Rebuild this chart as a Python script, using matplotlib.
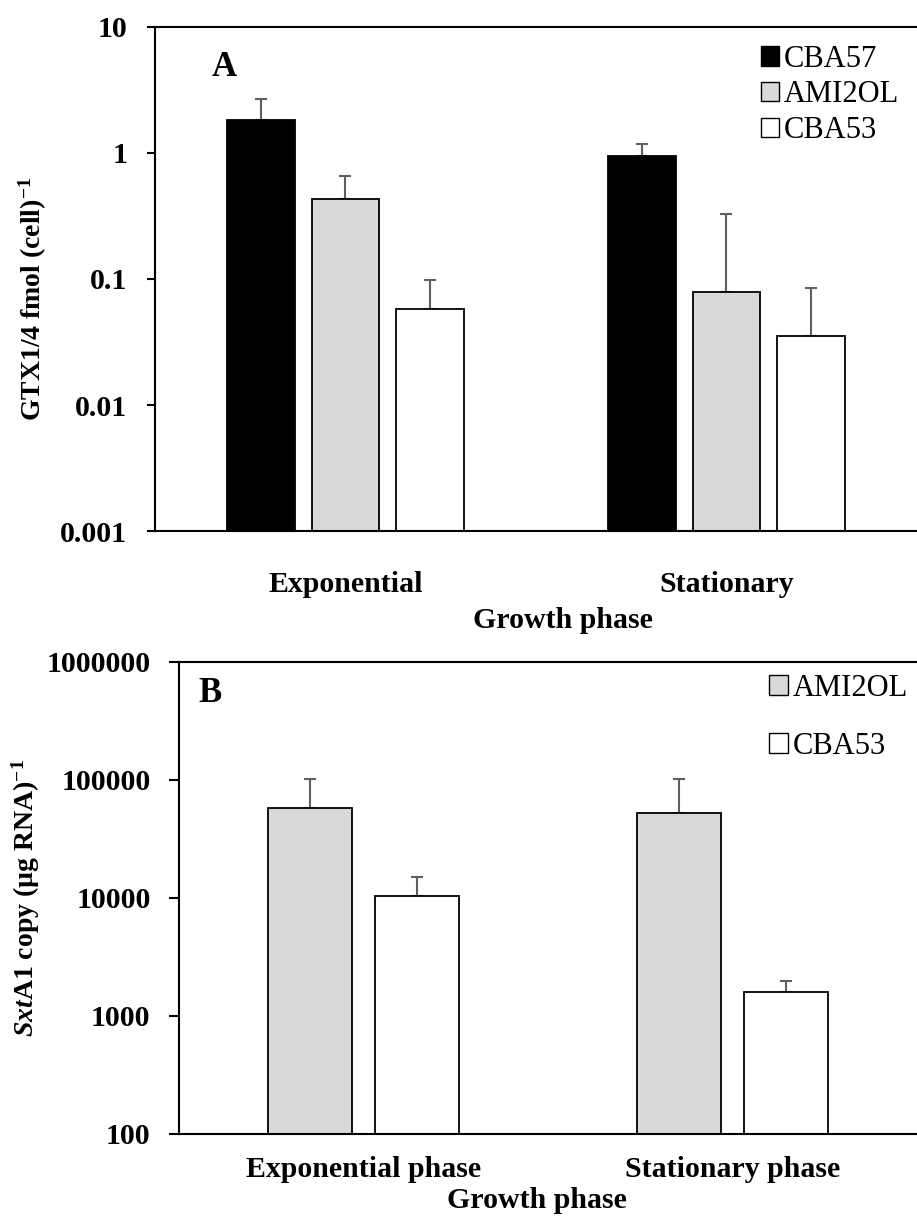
import numpy as np
import matplotlib
matplotlib.use("Agg")
import matplotlib.pyplot as plt
from matplotlib.patches import Patch

plt.rcParams["font.family"] = ["Liberation Serif", "DejaVu Serif"]
plt.rcParams["mathtext.fontset"] = "custom"
plt.rcParams["mathtext.rm"] = "Liberation Serif:bold"
plt.rcParams["mathtext.it"] = "Liberation Serif:bold:italic"
plt.rcParams["mathtext.bf"] = "Liberation Serif:bold"

# ---------------- data ----------------
phases_a = ["Exponential", "Stationary"]
strains_a = ["CBA57", "AMI2OL", "CBA53"]
gtx_mean = {
    "CBA57": [1.83, 0.95],
    "AMI2OL": [0.43, 0.079],
    "CBA53": [0.058, 0.035],
}
gtx_upper = {  # top of error bar
    "CBA57": [2.68, 1.18],
    "AMI2OL": [0.66, 0.33],
    "CBA53": [0.098, 0.085],
}
ticks_a = [0.001, 0.01, 0.1, 1, 10]
ticklabels_a = ["0.001", "0.01", "0.1", "1", "10"]

phases_b = ["Exponential phase", "Stationary phase"]
strains_b = ["AMI2OL", "CBA53"]
sxt_mean = {
    "AMI2OL": [58000, 52000],
    "CBA53": [10400, 1600],
}
sxt_upper = {
    "AMI2OL": [101000, 101000],
    "CBA53": [15000, 1980],
}
ticks_b = [100, 1000, 10000, 100000, 1000000]
ticklabels_b = ["100", "1000", "10000", "100000", "1000000"]

colors = {"CBA57": "#000000", "AMI2OL": "#d9d9d9", "CBA53": "#ffffff"}
ERR_COLOR = "#5f5f5f"
FS = 21.5      # tick labels / axis labels (horizontal)
FS_Y = 20      # rotated y labels
FS_LEG = 22


def style_axes(ax):
    ax.spines["right"].set_visible(False)
    for s in ["left", "bottom", "top"]:
        ax.spines[s].set_linewidth(1.5)
    ax.tick_params(axis="y", which="major", length=6, width=1.5, pad=14, labelsize=FS)
    ax.tick_params(axis="y", which="minor", length=0)
    ax.tick_params(axis="x", length=0, labelsize=FS)
    for lab in ax.get_yticklabels() + ax.get_xticklabels():
        lab.set_fontweight("bold")


def draw_group(ax, strains, mean, upper, width, step):
    n = len(strains)
    x = np.arange(2)
    for i, s in enumerate(strains):
        xi = x + (i - (n - 1) / 2) * step
        m = np.array(mean[s], dtype=float)
        u = np.array(upper[s], dtype=float)
        ax.bar(xi, m, width=width, color=colors[s], edgecolor="black",
               linewidth=1.3, label=s, zorder=2)
        ax.errorbar(xi, m, yerr=[np.zeros_like(m), u - m], fmt="none",
                    ecolor=ERR_COLOR, elinewidth=1.5, capsize=4.5, capthick=1.5, zorder=1)


fig = plt.figure(figsize=(9.17, 12.21), dpi=100)

# ---------------- panel A ----------------
axA = fig.add_axes([0.169, 0.5651, 0.831, 0.4128])
axA.set_yscale("log")
draw_group(axA, strains_a, gtx_mean, gtx_upper, width=0.178, step=0.221)
axA.set_xlim(-0.5, 1.5)
axA.set_ylim(0.001, 10)
axA.set_yticks(ticks_a)
axA.set_yticklabels(ticklabels_a)
axA.set_xticks([0, 1])
axA.set_xticklabels(phases_a)
style_axes(axA)
axA.tick_params(axis="x", pad=29)
axA.set_xlabel("Growth phase", fontsize=FS, fontweight="bold")
axA.xaxis.set_label_coords(0.535, -0.15)
axA.set_ylabel("GTX1/4 fmol (cell)$^{-1}$", fontsize=FS_Y, fontweight="bold")
axA.yaxis.set_label_coords(-0.139, 0.46)
axA.text(0.074, 0.92, "A", transform=axA.transAxes, fontsize=25,
         fontweight="bold", ha="left", va="center")
handlesA = [Patch(facecolor=colors[s], edgecolor="black", linewidth=1.0, label=s)
            for s in strains_a]
axA.legend(handles=handlesA, loc="upper left", bbox_to_anchor=(0.795, 0.965),
           frameon=False, fontsize=FS_LEG, handlelength=0.6, handleheight=0.6,
           handletextpad=0.15, labelspacing=0.22, borderpad=0, borderaxespad=0)

# ---------------- panel B ----------------
axB = fig.add_axes([0.1952, 0.0713, 0.8048, 0.3866])
axB.set_yscale("log")
draw_group(axB, strains_b, sxt_mean, sxt_upper, width=0.228, step=0.29)
axB.set_xlim(-0.5, 1.5)
axB.set_ylim(100, 1000000)
axB.set_yticks(ticks_b)
axB.set_yticklabels(ticklabels_b)
axB.set_xticks([0, 1])
axB.set_xticklabels(phases_b)
style_axes(axB)
axB.tick_params(axis="y", length=7.5, pad=13)
axB.tick_params(axis="x", pad=16)
axB.set_xlabel("Growth phase", fontsize=FS, fontweight="bold")
axB.xaxis.set_label_coords(0.485, -0.113)
axB.set_ylabel("$\\mathit{Sxt}$A1 copy (\u00b5g RNA)$^{-1}$", fontsize=FS_Y, fontweight="bold")
axB.yaxis.set_label_coords(-0.186, 0.5)
axB.text(0.026, 0.934, "B", transform=axB.transAxes, fontsize=25,
         fontweight="bold", ha="left", va="center")
handlesB = [Patch(facecolor=colors[s], edgecolor="black", linewidth=1.0, label=s)
            for s in strains_b]
axB.legend(handles=handlesB, loc="upper left", bbox_to_anchor=(0.80, 0.975),
           frameon=False, fontsize=FS_LEG, handlelength=0.6, handleheight=0.6,
           handletextpad=0.15, labelspacing=0.95, borderpad=0, borderaxespad=0)

fig.savefig("out.png", dpi=100)
